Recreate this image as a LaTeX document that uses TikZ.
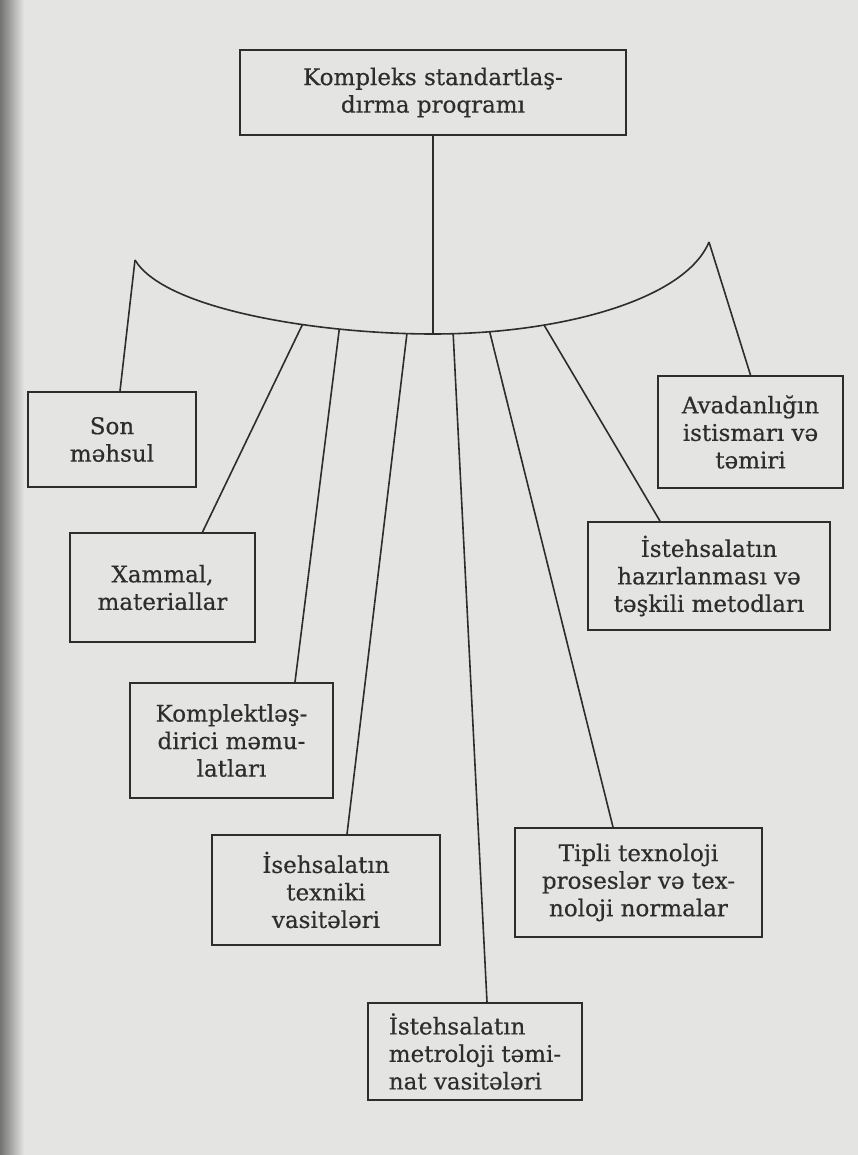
\documentclass[tikz,border=0pt]{standalone}
\usepackage{fontspec}
\setmainfont{DejaVu Serif}
\newfontfamily\boxfont[FakeBold=0.5]{DejaVu Serif}
\definecolor{bg}{RGB}{228,228,226}
\definecolor{ink}{RGB}{45,45,45}
\begin{document}
\begin{tikzpicture}[x=1pt,y=-1pt,
  box/.style={draw=ink, line width=1.8pt, fill=bg, align=center, inner sep=0pt,
    font=\boxfont\fontsize{23}{27.5}\selectfont, text=ink},
  conn/.style={draw=ink, line width=1.6pt}]
\useasboundingbox (0,0) rectangle (858,1155);
\fill[bg] (0,0) rectangle (858,1155);
\shade[left color=black!55, right color=bg] (0,0) rectangle (24,1155);

% top box
\node[box, minimum width=386pt, minimum height=85pt] (top) at (433,92.5)
  {Kompleks standartlaş-\\dırma proqramı};

% arc
\coordinate (tipL) at (135,260);
\coordinate (tipR) at (709,242);
\coordinate (bot) at (433,334);
\draw[conn] (tipL) .. controls (165,310) and (320,334) ..
    coordinate[pos=0.64] (a1) coordinate[pos=0.74] (a2) coordinate[pos=0.925] (a3)
  (bot) .. controls (560,334) and (685,300) ..
    coordinate[pos=0.053] (a4) coordinate[pos=0.15] (a5) coordinate[pos=0.3] (a6)
  (tipR);
\draw[conn] (top.south) -- (bot);

% boxes
\node[box, minimum width=168pt, minimum height=95pt] (son) at (112,439.5)
  {Son\\məhsul};
\node[box, minimum width=185pt, minimum height=112pt] (avad) at (750.5,432)
  {Avadanlığın\\istismarı və\\təmiri};
\node[box, minimum width=185pt, minimum height=109pt] (xam) at (162.5,587.5)
  {Xammal,\\materiallar};
\node[box, minimum width=242pt, minimum height=108pt] (haz) at (709,576)
  {İstehsalatın\\hazırlanması və\\təşkili metodları};
\node[box, minimum width=203pt, minimum height=115pt] (komp) at (231.5,740.5)
  {Komplektləş-\\dirici məmu-\\latları};
\node[box, minimum width=228pt, minimum height=110pt] (tex) at (326,890)
  {İsehsalatın\\texniki\\vasitələri};
\node[box, minimum width=247pt, minimum height=109pt] (tipli) at (638.5,882.5)
  {Tipli texnoloji\\proseslər və tex-\\noloji normalar};
\node[box, align=left, minimum width=214pt, minimum height=97pt] (met) at (475,1051.5)
  {İstehsalatın\\metroloji təmi-\\nat vasitələri};

% connectors
\draw[conn] (tipL) -- ([xshift=8pt]son.north);
\draw[conn] (tipR) -- (avad.north);
\draw[conn] (a1) -- ([xshift=40pt]xam.north);
\draw[conn] (a2) -- ([xshift=63.5pt]komp.north);
\draw[conn] (a3) -- ([xshift=21pt]tex.north);
\draw[conn] (a4) -- ([xshift=12pt]met.north);
\draw[conn] (a5) -- ([xshift=-25.5pt]tipli.north);
\draw[conn] (a6) -- ([xshift=-49pt]haz.north);
\end{tikzpicture}
\end{document}
